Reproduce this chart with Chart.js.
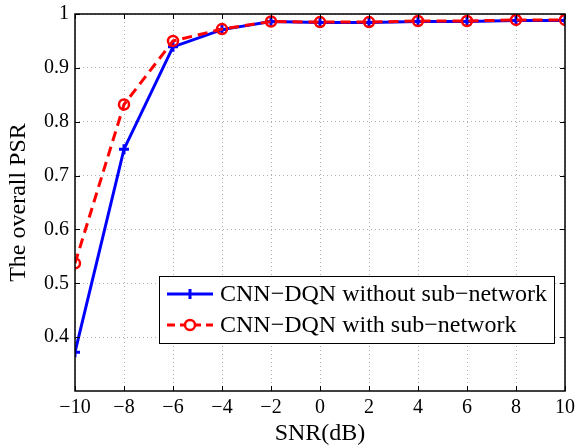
<!DOCTYPE html>
<html>
<head>
<meta charset="utf-8">
<script src="https://cdn.jsdelivr.net/npm/chart.js@4/dist/chart.umd.min.js"></script>
<style>
  html, body { margin: 0; padding: 0; background: #fff; }
  #wrap { width: 579px; height: 448px; position: relative; }
</style>
</head>
<body>
<div id="wrap"><canvas id="psr-chart" width="579" height="448"></canvas></div>
<script>
// SNR values (dB) on the x axis
const snrValues = [-10, -8, -6, -4, -2, 0, 2, 4, 6, 8, 10];
// overall PSR
const psrWithout = [0.372, 0.749, 0.939, 0.971, 0.986, 0.984, 0.984, 0.986, 0.986, 0.988, 0.988];
const psrWith = [0.537, 0.832, 0.950, 0.972, 0.986, 0.985, 0.985, 0.987, 0.987, 0.989, 0.989];
const yTickValues = [0.4, 0.5, 0.6, 0.7, 0.8, 0.9, 1];
const seriesLabels = ['CNN\u2212DQN without sub\u2212network', 'CNN\u2212DQN with sub\u2212network'];

const FONT = '"Liberation Serif", "DejaVu Serif", serif';

/**
 * Matlab-style box: black frame plus inward ticks on every side
 */
const boxPlugin = {
    id: 'boxPlugin',
    afterDatasetsDraw(chart) {
        const ctx = chart.ctx;
        const area = chart.chartArea;
        const xs = chart.scales.x;
        const ys = chart.scales.y;
        const len = 5;
        ctx.save();
        ctx.strokeStyle = '#000';
        ctx.lineWidth = 1;
        ctx.beginPath();
        snrValues.forEach(v => {
            const px = Math.round(xs.getPixelForValue(v)) + 0.5;
            ctx.moveTo(px, area.bottom);
            ctx.lineTo(px, area.bottom - len);
            ctx.moveTo(px, area.top);
            ctx.lineTo(px, area.top + len);
        });
        yTickValues.forEach(v => {
            const py = Math.round(ys.getPixelForValue(v)) + 0.5;
            ctx.moveTo(area.left, py);
            ctx.lineTo(area.left + len, py);
            ctx.moveTo(area.right, py);
            ctx.lineTo(area.right - len, py);
        });
        ctx.stroke();
        ctx.lineWidth = 1.5;
        ctx.strokeRect(area.left, area.top, area.right - area.left, area.bottom - area.top);
        ctx.restore();
    }
};

/**
 * Legend box drawn inside the plot, lower right
 */
const legendBoxPlugin = {
    id: 'legendBoxPlugin',
    afterDraw(chart) {
        const ctx = chart.ctx;
        const box = { x: 159, y: 276, w: 395, h: 67 };
        const rows = [294, 325];
        ctx.save();
        ctx.fillStyle = '#fff';
        ctx.fillRect(box.x, box.y, box.w, box.h);
        ctx.strokeStyle = '#000';
        ctx.lineWidth = 1;
        ctx.strokeRect(box.x + 0.5, box.y + 0.5, box.w, box.h);

        // row 1: solid blue with plus marker
        ctx.strokeStyle = '#0000ff';
        ctx.lineWidth = 3;
        ctx.beginPath();
        ctx.moveTo(167, rows[0]);
        ctx.lineTo(213, rows[0]);
        ctx.moveTo(190, rows[0] - 5);
        ctx.lineTo(190, rows[0] + 5);
        ctx.stroke();

        // row 2: dashed red with circle marker
        ctx.strokeStyle = '#ff0000';
        ctx.setLineDash([8, 5]);
        ctx.beginPath();
        ctx.moveTo(167, rows[1]);
        ctx.lineTo(213, rows[1]);
        ctx.stroke();
        ctx.setLineDash([]);
        ctx.fillStyle = '#fff';
        ctx.beginPath();
        ctx.arc(190, rows[1], 5, 0, Math.PI * 2);
        ctx.fill();
        ctx.lineWidth = 2.5;
        ctx.stroke();

        ctx.fillStyle = '#000';
        ctx.font = '24px ' + FONT;
        ctx.textBaseline = 'middle';
        ctx.fillText(seriesLabels[0], 220, rows[0] + 1);
        ctx.fillText(seriesLabels[1], 220, rows[1] + 1);
        ctx.restore();
    }
};

const gridStyle = {
    color: '#b0b0b0',
    lineWidth: 1,
    tickLength: 0,
    drawTicks: false
};
// dotted grid lines (v4 takes the dash from the border options)
const borderStyle = { display: false, dash: [1, 3] };

new Chart(document.getElementById('psr-chart').getContext('2d'), {
    type: 'line',
    data: {
        datasets: [{
            label: seriesLabels[0],
            data: snrValues.map((x, i) => ({ x, y: psrWithout[i] })),
            borderColor: '#0000ff',
            backgroundColor: '#0000ff',
            borderWidth: 3,
            pointStyle: 'cross',
            pointRadius: 5,
            pointBorderWidth: 3,
            order: 1
        }, {
            label: seriesLabels[1],
            data: snrValues.map((x, i) => ({ x, y: psrWith[i] })),
            borderColor: '#ff0000',
            backgroundColor: 'rgba(0,0,0,0)',
            borderWidth: 3,
            borderDash: [10, 6],
            pointStyle: 'circle',
            pointRadius: 5,
            pointBorderWidth: 2.5,
            order: 0
        }]
    },
    options: {
        responsive: false,
        animation: false,
        layout: { padding: { left: 0, right: 14, top: 14, bottom: 0 } },
        plugins: {
            legend: { display: false },
            tooltip: { enabled: false }
        },
        scales: {
            x: {
                type: 'linear',
                min: -10,
                max: 10,
                afterBuildTicks: scale => {
                    scale.ticks = snrValues.map(v => ({ value: v }));
                },
                afterFit: scale => {
                    scale.height = 57;
                    scale.paddingLeft = 0;
                    scale.paddingRight = 0;
                },
                border: { ...borderStyle },
                grid: { ...gridStyle },
                ticks: {
                    color: '#000',
                    font: { family: FONT, size: 20 },
                    padding: 5,
                    maxRotation: 0,
                    callback: v => (v < 0 ? '\u2212' + Math.abs(v) : String(v))
                },
                title: {
                    display: true,
                    text: 'SNR(dB)',
                    color: '#000',
                    font: { family: FONT, size: 24 },
                    padding: { top: -8, bottom: 0 }
                }
            },
            y: {
                type: 'linear',
                min: 0.3,
                max: 1,
                afterBuildTicks: scale => {
                    scale.ticks = yTickValues.map(v => ({ value: v }));
                },
                afterFit: scale => {
                    scale.width = 75;
                    scale.paddingTop = 0;
                    scale.paddingBottom = 0;
                },
                border: { ...borderStyle },
                grid: { ...gridStyle },
                ticks: {
                    color: '#000',
                    font: { family: FONT, size: 20 },
                    padding: 6,
                    callback: v => (v === 1 ? '1' : v.toFixed(1))
                },
                title: {
                    display: true,
                    text: 'The overall PSR',
                    color: '#000',
                    font: { family: FONT, size: 24 },
                    padding: { top: 4, bottom: 0 }
                }
            }
        }
    },
    plugins: [boxPlugin, legendBoxPlugin]
});
</script>
</body>
</html>
